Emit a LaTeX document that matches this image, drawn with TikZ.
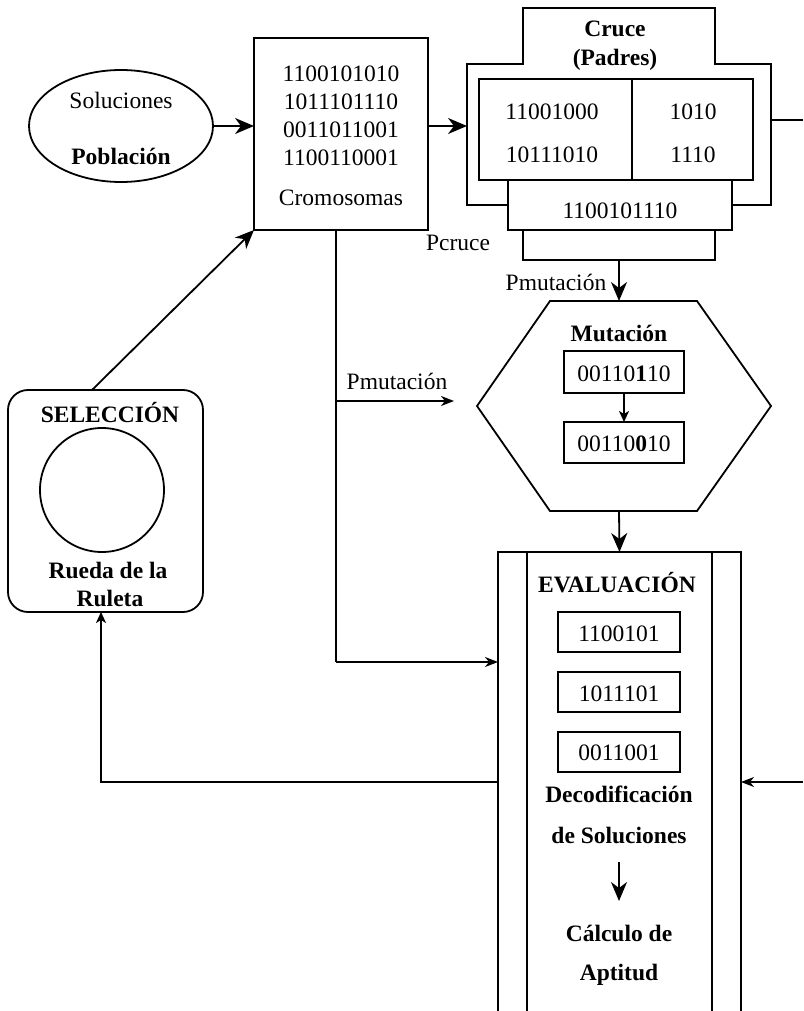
\documentclass[tikz,border=0pt]{standalone}
\usepackage{fontspec}
\setmainfont{Liberation Serif}
\usetikzlibrary{shapes.geometric,arrows.meta}
\begin{document}
\begin{tikzpicture}[x=1pt,y=-1pt,
  every node/.style={inner sep=0pt, outer sep=0pt},
  ln/.style={line width=1.8pt},
  arr/.style={ln, -{Stealth[length=19pt,width=16pt,inset=6pt]}},
  marr/.style={ln, -{Stealth[length=13pt,width=10pt,inset=4pt]}},
  sarr/.style={ln, -{Stealth[length=13pt,width=10pt,inset=4pt]}},
  tarr/.style={ln, -{Stealth[length=11pt,width=10pt,inset=3pt]}},
  lbl/.style={font=\fontsize{23.5}{28}\selectfont},
  blbl/.style={font=\fontsize{23.5}{28}\selectfont\bfseries},
  frame/.style={draw, ln},
]
\clip (0,0) rectangle (803,1011);
\fill[white] (0,0) rectangle (803,1011);

% Population
\node[frame, ellipse, minimum width=184pt, minimum height=112pt] (pob) at (121,126) {};
\node[lbl] (solt) at (121,100) {Soluciones};
\node[blbl] (pobt) at (121,156) {Población};

% Chromosomes
\node[frame, minimum width=174pt, minimum height=192pt] (crom) at (341,134) {};
\node[lbl] (c1) at (341,74) {1100101010};
\node[lbl] (c2) at (341,102) {1011101110};
\node[lbl] (c3) at (341,130) {0011011001};
\node[lbl] (c4) at (341,158) {1100110001};
\node[lbl] (c5) at (341,198) {Cromosomas};

% Crossover block
\node[minimum width=304pt, minimum height=197pt] (cruce) at (619,106.5) {};
\draw[ln] (508,205) -- (467,205) -- (467,64) -- (523,64) -- (523,8) -- (715,8)
  -- (715,64) -- (771,64) -- (771,205) -- (732,205);
\node[blbl, align=center] (crucet) at (615,46) {Cruce\\[1pt](Padres)};
\node[frame, minimum width=274pt, minimum height=101pt] (padres) at (616,129.5) {};
\draw[ln] (padres.north -| 632,0) -- (padres.south -| 632,0);
\node[lbl] (p1) at (552,112) {11001000};
\node[lbl] (p2) at (552,155) {10111010};
\node[lbl] (p3) at (693,112) {1010};
\node[lbl] (p4) at (693,155) {1110};
\node[frame, fill=white, minimum width=224pt, minimum height=50pt] (hijo) at (620,205) {};
\node[lbl] (hijot) at (620,211) {1100101110};
\node[frame, minimum width=192pt, minimum height=30pt] (pc) at (619,245) {};
\node[lbl] (pcruce) at (458,243) {Pcruce};
\node[lbl] (pmut1) at (556,282) {Pmutación};

% Mutation hexagon
\draw[ln] (550,301) -- (697,301) -- (771,406) -- (697,511) -- (550,511) -- (477,406) -- cycle;
\coordinate (mutN) at (619,301);
\coordinate (mutS) at (619,511);
\node[blbl] (mutt) at (619,333) {Mutación};
\node[frame, minimum width=120pt, minimum height=42pt] (m1) at (624,372) {};
\node[lbl] (m1t) at (624,374) {00110\textbf{1}10};
\node[frame, minimum width=120pt, minimum height=41pt] (m2) at (624,442.5) {};
\node[lbl] (m2t) at (624,444) {00110\textbf{0}10};

% Evaluation
\node[frame, anchor=north, minimum width=243pt, minimum height=500pt] (eval) at (619.5,552) {};
\draw[ln] (eval.north -| 527,0) -- (eval.south -| 527,0);
\draw[ln] (eval.north -| 712,0) -- (eval.south -| 712,0);
\node[blbl] (evalt) at (617,583) {EVALUACIÓN};
\node[frame, minimum width=122pt, minimum height=40pt] (e1) at (619,632) {};
\node[lbl] (e1t) at (619,634) {1100101};
\node[frame, minimum width=122pt, minimum height=40pt] (e2) at (619,692) {};
\node[lbl] (e2t) at (619,694) {1011101};
\node[frame, minimum width=122pt, minimum height=40pt] (e3) at (619,752) {};
\node[lbl] (e3t) at (619,753) {0011001};
\node[blbl] (dec1) at (619,794) {Decodificación};
\node[blbl] (dec2) at (619,835) {de Soluciones};
\coordinate (ev1) at (619,862);
\coordinate (ev2) at (619,901);
\node[blbl] (cal1) at (619,933) {Cálculo de};
\node[blbl] (cal2) at (619,975) {Aptitud};

% Selection
\node[frame, rounded corners=20pt, minimum width=195pt, minimum height=222pt] (sel) at (105.5,501) {};
\node[blbl] (selt) at (110,413) {SELECCIÓN};
\node[frame, circle, minimum size=124pt] (wheel) at (102,490) {};
\node[blbl] (rue1) at (108,570) {Rueda de la};
\node[blbl] (rue2) at (110,598) {Ruleta};

% Connectors
\coordinate (outR) at (803,120);
\coordinate (tapP) at (336,401);
\coordinate (tapE) at (336,662);
\coordinate (pmEnd) at (454,401);
\coordinate (loopC) at (101,782);
\coordinate (inR) at (803,782);

\draw[arr] (pob.east) -- (crom.west |- pob.east);
\draw[arr] (crom.east |- pob.east) -- (cruce.west |- pob.east);
\draw[ln] (cruce.east |- outR) -- (outR);
\draw[arr] (pc.south) -- (mutN);
\draw[tarr] (m1.south) -- (m2.north);
\draw[arr] (mutS) -- (eval.north);
\draw[arr] (ev1) -- (ev2);
\draw[ln] (crom.south -| tapP) -- (tapE);
\draw[sarr] (tapP) -- (pmEnd);
\node[lbl] (pmut2) at (397,381) {Pmutación};
\draw[marr] (tapE) -- (eval.west |- tapE);
\draw[arr] ([xshift=-13.5pt]sel.north) -- (crom.south west);
\draw[tarr] (eval.west |- loopC) -- (loopC) -- (sel.south -| loopC);
\draw[marr] (inR) -- (eval.east |- inR);
\end{tikzpicture}
\end{document}
